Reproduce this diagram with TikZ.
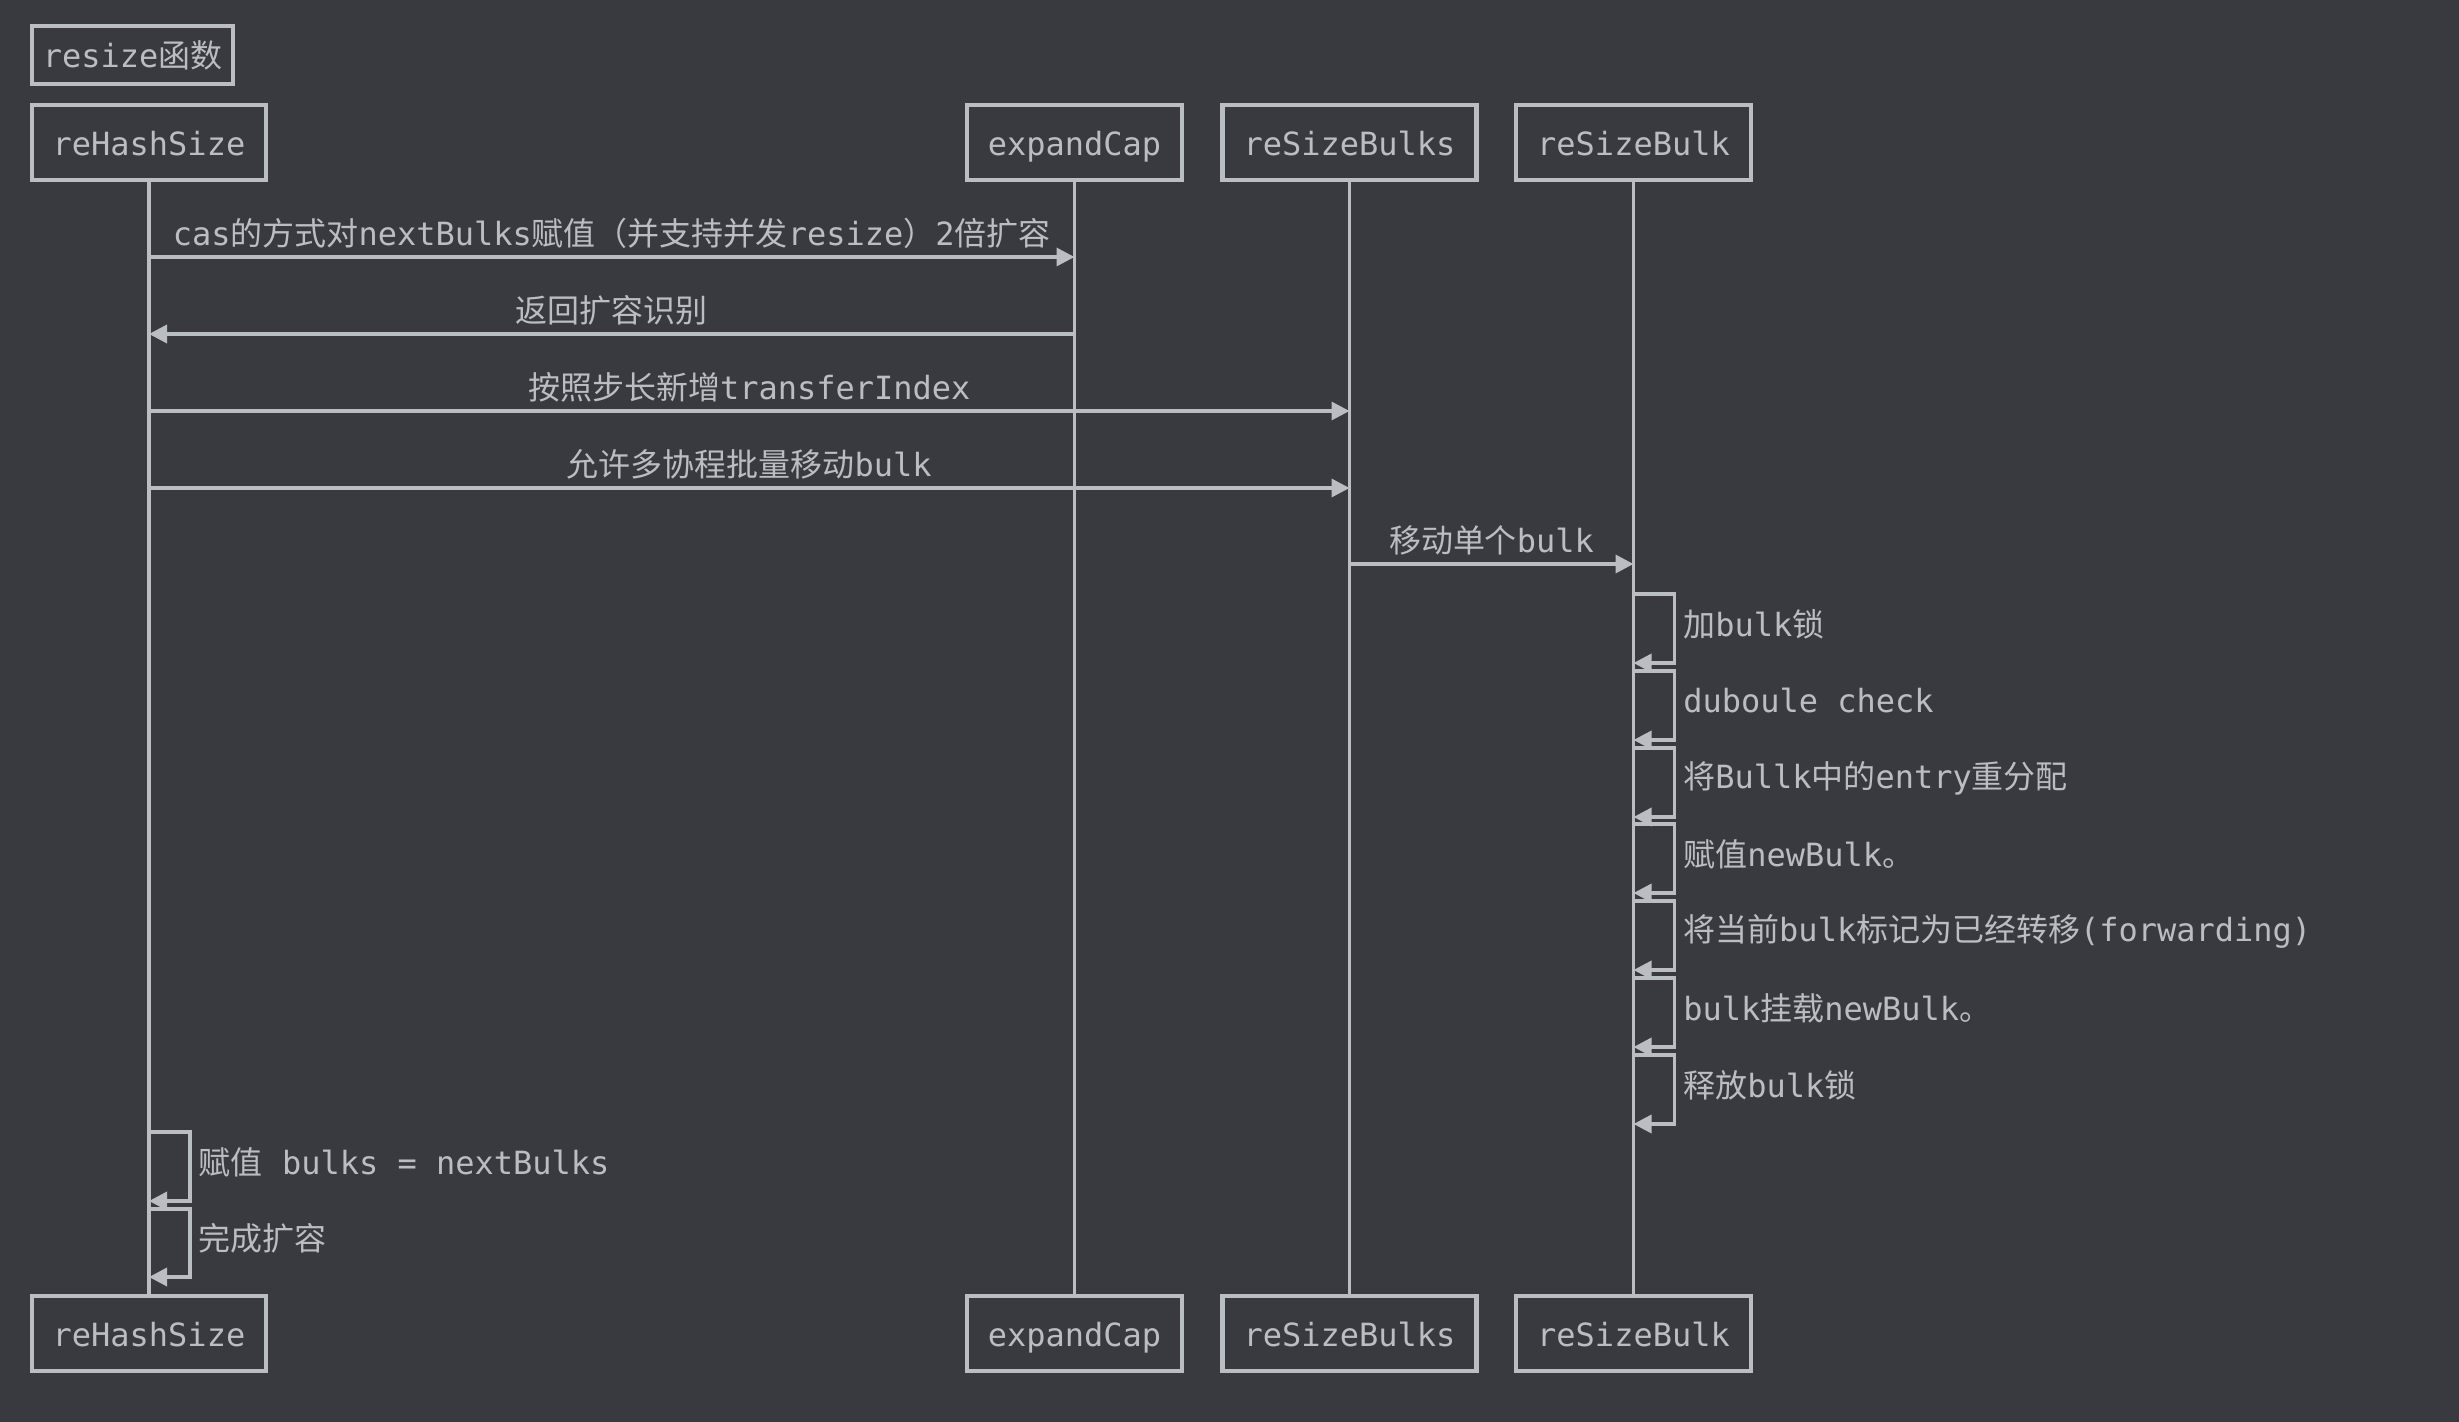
\documentclass[tikz,border=0pt]{standalone}
\usepackage{fontspec}
\setmainfont{DejaVu Sans Mono}
\newfontfamily\cjk{Noto Sans CJK SC}
\usetikzlibrary{arrows.meta}
\definecolor{bgcol}{RGB}{56,58,64}
\definecolor{fgcol}{RGB}{186,189,194}
\tikzstyle{actor}=[rectangle,draw=fgcol,line width=1.2pt,minimum height=7.5mm,inner xsep=2.1mm,text height=0.85em,text depth=0.12em,text=fgcol]
\tikzstyle{life}=[draw=fgcol,line width=0.9pt]
\tikzstyle{msg}=[-{Triangle[length=1.8mm,width=1.8mm]},draw=fgcol,line width=1pt]
\tikzstyle{lbl}=[text=fgcol]
\tikzstyle{self}=[lbl,midway,right,inner xsep=2pt,yshift=1.3pt]

\begin{document}
\begin{tikzpicture}[x=0.1mm,y=-0.1mm,font=\fontsize{9.1}{11}\selectfont]
\fill[bgcol] (0,0) rectangle (2459,1422);
\useasboundingbox (0,0) rectangle (2459,1422);
\node[actor,minimum height=5.6mm,inner xsep=1.1mm] (T) at (132.5,55) {resize{\cjk 函数}};
\node[actor] (H) at (149,142.5) {reHashSize};
\node[actor] (E) at (1074.5,142.5) {expandCap};
\node[actor] (S) at (1349.5,142.5) {reSizeBulks};
\node[actor] (B) at (1633.5,142.5) {reSizeBulk};
\node[actor] (Hb) at (149,1333.5) {reHashSize};
\node[actor] (Eb) at (1074.5,1333.5) {expandCap};
\node[actor] (Sb) at (1349.5,1333.5) {reSizeBulks};
\node[actor] (Bb) at (1633.5,1333.5) {reSizeBulk};
\draw[life](H)--(Hb);\draw[life](E)--(Eb);\draw[life](S)--(Sb);\draw[life](B)--(Bb);
\draw[msg](H |- 0,257)--(E |- 0,257) node[lbl,midway,above,yshift=-1.3pt]{cas{\cjk 的方式对}nextBulks{\cjk 赋值（并支持并发}resize{\cjk ）}2{\cjk 倍扩容}};
\draw[msg](E |- 0,334)--(H |- 0,334) node[lbl,midway,above,yshift=-1.3pt]{{\cjk 返回扩容识别}};
\draw[msg](H |- 0,411)--(S |- 0,411) node[lbl,midway,above,yshift=-1.3pt]{{\cjk 按照步长新增}transferIndex};
\draw[msg](H |- 0,488)--(S |- 0,488) node[lbl,midway,above,yshift=-1.3pt]{{\cjk 允许多协程批量移动}bulk};
\draw[msg](S |- 0,564)--(B |- 0,564) node[lbl,midway,above,yshift=-1.3pt]{{\cjk 移动单个}bulk};
\draw[msg](B |- 0,594)--++(41,0)--++(0,69) node[self]{{\cjk 加}bulk{\cjk 锁}}--++(-41,0);
\draw[msg](B |- 0,671)--++(41,0)--++(0,69) node[self]{duboule check}--++(-41,0);
\draw[msg](B |- 0,748)--++(41,0)--++(0,69) node[self]{{\cjk 将}Bullk{\cjk 中的}entry{\cjk 重分配}}--++(-41,0);
\draw[msg](B |- 0,824)--++(41,0)--++(0,69) node[self]{{\cjk 赋值}newBulk{\cjk 。}}--++(-41,0);
\draw[msg](B |- 0,901)--++(41,0)--++(0,69) node[self]{{\cjk 将当前}bulk{\cjk 标记为已经转移}(forwarding)}--++(-41,0);
\draw[msg](B |- 0,978)--++(41,0)--++(0,69) node[self]{bulk{\cjk 挂载}newBulk{\cjk 。}}--++(-41,0);
\draw[msg](B |- 0,1055)--++(41,0)--++(0,69) node[self]{{\cjk 释放}bulk{\cjk 锁}}--++(-41,0);
\draw[msg](H |- 0,1132)--++(41,0)--++(0,69) node[self]{{\cjk 赋值} bulks = nextBulks}--++(-41,0);
\draw[msg](H |- 0,1209)--++(41,0)--++(0,68) node[self]{{\cjk 完成扩容}}--++(-41,0);
\end{tikzpicture}
\end{document}
